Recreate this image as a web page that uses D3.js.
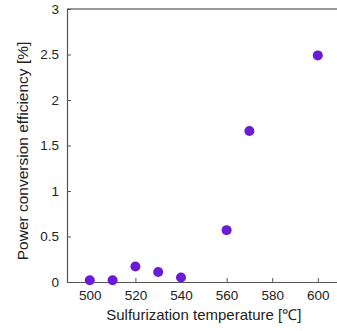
<!DOCTYPE html>
<html>
<head>
<meta charset="utf-8">
<script src="https://cdn.jsdelivr.net/npm/d3@7"></script>
<style>
  body { margin: 0; background: #fff; }
  text { font-family: "Liberation Sans", Arial, sans-serif; }
</style>
</head>
<body>
<div id="chart"></div>
<script>
var temps = [500, 510, 520, 530, 540, 560, 570, 600];
var pce = [0.02, 0.02, 0.17, 0.11, 0.05, 0.57, 1.66, 2.49];
var xTicks = [500, 520, 540, 560, 580, 600];
var yTicks = [0, 0.5, 1, 1.5, 2, 2.5, 3];

var width = 337, height = 331;
var margin = {top: 9, right: 0, bottom: 48, left: 67};
var mwidth = width - margin.left - margin.right;
var mheight = height - margin.top - margin.bottom - 1;

var svg = d3.select("#chart").append("svg")
    .attr("width", width)
    .attr("height", height);

var g = svg.append("g")
    .attr("transform", "translate(" + margin.left + "," + margin.top + ")");

var x = d3.scaleLinear()
    .domain([490, 490 + mwidth / 2.28])
    .range([0, mwidth]);
var y = d3.scaleLinear()
    .domain([0, 3])
    .range([mheight, 0]);

// top frame line
g.append("line")
    .attr("x1", 0).attr("x2", mwidth)
    .attr("y1", 0).attr("y2", 0)
    .attr("stroke", "#333").attr("stroke-width", 1.2);

var xAxis = g.append("g")
    .attr("transform", "translate(0," + mheight + ")")
    .call(d3.axisBottom(x).tickValues(xTicks).tickSizeInner(-4).tickSizeOuter(0).tickPadding(8));

var yAxis = g.append("g")
    .call(d3.axisLeft(y).tickValues(yTicks).tickSizeInner(-4).tickSizeOuter(0).tickPadding(8)
        .tickFormat(function(d) { return d; }));

[xAxis, yAxis].forEach(function(a) {
    a.select(".domain").attr("stroke", "#555").attr("stroke-width", 1.2);
    a.selectAll(".tick line").attr("stroke", "#555");
    a.selectAll(".tick text").attr("font-size", 13.5).attr("fill", "#222")
        .style("font-family", "Liberation Sans, Arial, sans-serif");
});

g.selectAll("circle")
    .data(temps)
    .enter()
    .append("circle")
    .attr("cx", function(d) { return x(d); })
    .attr("cy", function(d, i) { return y(pce[i]); })
    .attr("r", 5)
    .attr("fill", "#6a1bd6");

svg.append("text")
    .attr("x", margin.left + x(550))
    .attr("y", 320)
    .attr("text-anchor", "middle")
    .attr("font-size", 15)
    .attr("fill", "#222")
    .text("Sulfurization temperature [℃]");

svg.append("text")
    .attr("transform", "translate(28," + 151 + ") rotate(-90)")
    .attr("text-anchor", "middle")
    .attr("font-size", 15.5)
    .attr("fill", "#222")
    .text("Power conversion efficiency [%]");
</script>
</body>
</html>
